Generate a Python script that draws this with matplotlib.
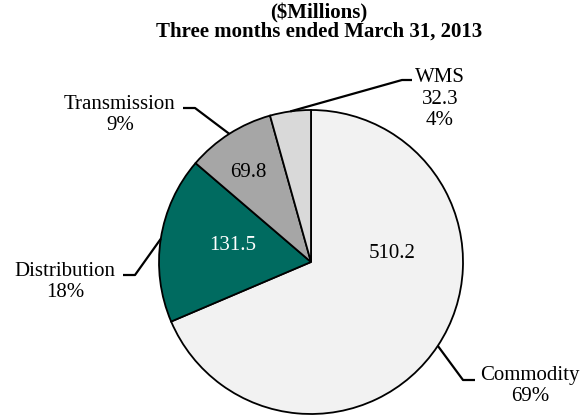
import numpy as np
import matplotlib
matplotlib.use('Agg')
import matplotlib.pyplot as plt

segments = ['Commodity', 'Distribution', 'Transmission', 'WMS']
values = [510.2, 131.5, 69.8, 32.3]
colors = ['#f2f2f2', '#006b60', '#a6a6a6', '#d9d9d9']
value_colors = ['black', 'white', 'black', 'black']
title_lines = ['($Millions)', 'Three months ended March 31, 2013']

plt.rcParams['font.family'] = ['Liberation Serif', 'DejaVu Serif']

W, H = 587, 415
fig = plt.figure(figsize=(W / 100, H / 100), dpi=100)
ax = fig.add_axes([0, 0, 1, 1])


def py(y):
    # pixel row (from top) -> data y
    return H - y


cx, cy, r = 311, py(262), 152
wedges, _ = ax.pie(values, colors=colors, startangle=90, counterclock=False,
                   center=(cx, cy), radius=r,
                   wedgeprops=dict(edgecolor='black', linewidth=1.3))
ax.set_xlim(0, W)
ax.set_ylim(0, H)
ax.set_aspect('equal')
ax.axis('off')

total = sum(values)
pct = [f'{v / total * 100:.0f}%' for v in values]

# value labels inside the slices (pixel positions)
inner_pos = {0: (392, 253), 1: (233, 245), 2: (248, 173)}
for i, (x, y) in inner_pos.items():
    ax.text(x, py(y), f'{values[i]:.1f}', ha='center', va='center',
            fontsize=15, color=value_colors[i])

# outside labels: elbow, line end, text centre (pixels)
outer = {
    0: ((463, 380), (475, 380), (530, 386), f'{segments[0]}\n{pct[0]}'),
    1: ((135, 275), (123, 275), (65, 282), f'{segments[1]}\n{pct[1]}'),
    2: ((195, 108), (183, 108), (120, 115), f'{segments[2]}\n{pct[2]}'),
    3: ((402, 80), (412, 80), (440, 99), f'{segments[3]}\n{values[3]:.1f}\n{pct[3]}'),
}
for i, (elbow, end, tpos, label) in outer.items():
    w = wedges[i]
    th = np.deg2rad((w.theta1 + w.theta2) / 2)
    sx, sy = cx + r * np.cos(th), cy + r * np.sin(th)
    ax.plot([sx, elbow[0], end[0]], [sy, py(elbow[1]), py(end[1])],
            color='black', lw=1.6, solid_capstyle='butt')
    ax.text(tpos[0], py(tpos[1]), label, ha='center', va='center',
            fontsize=15, linespacing=1.2)

ax.text(319, py(13), title_lines[0], ha='center', va='center',
        fontsize=15, fontweight='bold')
ax.text(319, py(32), title_lines[1], ha='center', va='center',
        fontsize=15, fontweight='bold')

fig.savefig('out.png', dpi=100)
